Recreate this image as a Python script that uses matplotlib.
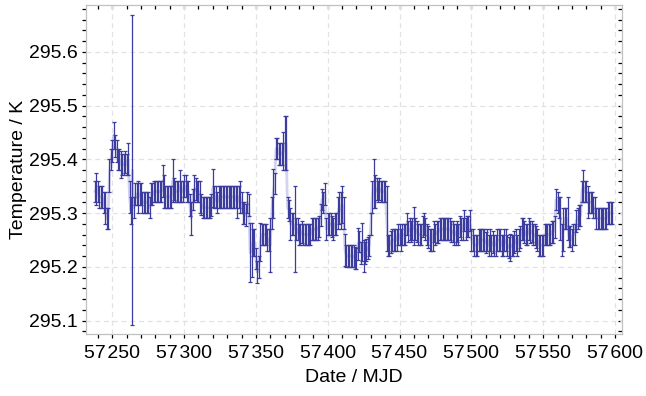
import numpy as np
import matplotlib
matplotlib.use("Agg")
import matplotlib.pyplot as plt
from matplotlib.ticker import MultipleLocator, FuncFormatter

plt.rcParams['font.family'] = ['Liberation Sans', 'DejaVu Sans']

start_day = 57238
temps = [
    # 57238
    295.34, 295.345, 295.34, 295.33, 295.33, 295.33, 295.32, 295.31, 295.29, 295.29,
    # 57248
    295.37, 295.40, 295.415, 295.445, 295.425, 295.415, 295.40, 295.40, 295.39, 295.39,
    # 57258
    295.39, 295.395, 295.39, 295.40, 295.33, 295.305, 295.38, 295.31, 295.335, 295.335,
    # 57268
    295.33, 295.335, 295.335, 295.32, 295.32, 295.32, 295.32, 295.32, 295.31, 295.335,
    # 57278
    295.335, 295.34, 295.34, 295.34, 295.34, 295.34, 295.34, 295.36, 295.34, 295.33,
    # 57288
    295.33, 295.33, 295.33, 295.33, 295.36, 295.345, 295.34, 295.34, 295.34, 295.35,
    # 57298
    295.34, 295.34, 295.35, 295.35, 295.34, 295.34, 295.315, 295.29, 295.325, 295.345,
    # 57308
    295.345, 295.34, 295.34, 295.33, 295.316, 295.31, 295.31, 295.31, 295.31, 295.31,
    # 57318
    295.31, 295.315, 295.346, 295.33, 295.33, 295.32, 295.33, 295.33, 295.33, 295.33,
    # 57328
    295.33, 295.33, 295.33, 295.33, 295.33, 295.33, 295.33, 295.33, 295.33, 295.32,
    # 57338
    295.33, 295.33, 295.32, 295.30, 295.30, 295.296, 295.32, 295.315, 295.226, 295.231,
    # 57348
    295.246, 295.246, 295.215, 295.19, 295.20, 295.246, 295.26, 295.26, 295.26, 295.26,
    # 57358
    295.25, 295.25, 295.24, 295.30, 295.336, 295.355, 295.42, 295.42, 295.41, 295.41,
    # 57368
    295.41, 295.415, 295.43, 295.43, 295.31, 295.305, 295.28, 295.28, 295.28, 295.27,
    # 57378
    295.27, 295.27, 295.26, 295.26, 295.265, 295.26, 295.26, 295.26, 295.26, 295.26,
    # 57388
    295.26, 295.27, 295.27, 295.27, 295.27, 295.27, 295.275, 295.296, 295.325, 295.32,
    # 57398
    295.335, 295.27, 295.28, 295.28, 295.28, 295.275, 295.27, 295.28, 295.28, 295.30,
    # 57408
    295.31, 295.305, 295.316, 295.30, 295.231, 295.22, 295.22, 295.22, 295.22, 295.22,
    # 57418
    295.22, 295.216, 295.215, 295.242, 295.247, 295.226, 295.246, 295.22, 295.226, 295.231,
    # 57428
    295.235, 295.24, 295.28, 295.33, 295.355, 295.34, 295.345, 295.34, 295.345, 295.34,
    # 57438
    295.34, 295.34, 295.34, 295.29, 295.24, 295.24, 295.246, 295.25, 295.25, 295.25,
    # 57448
    295.25, 295.26, 295.26, 295.25, 295.26, 295.26, 295.26, 295.28, 295.266, 295.27,
    # 57458
    295.266, 295.27, 295.276, 295.27, 295.266, 295.26, 295.26, 295.26, 295.275, 295.28,
    # 57468
    295.27, 295.26, 295.255, 295.25, 295.25, 295.25, 295.266, 295.26, 295.265, 295.265,
    # 57478
    295.27, 295.27, 295.27, 295.27, 295.27, 295.27, 295.27, 295.27, 295.266, 295.266,
    # 57488
    295.26, 295.26, 295.266, 295.26, 295.275, 295.27, 295.27, 295.286, 295.27, 295.275,
    # 57498
    295.275, 295.286, 295.25, 295.25, 295.24, 295.24, 295.24, 295.25, 295.25, 295.25,
    # 57508
    295.25, 295.25, 295.245, 295.25, 295.24, 295.25, 295.24, 295.246, 295.24, 295.24,
    # 57518
    295.25, 295.25, 295.25, 295.24, 295.24, 295.25, 295.25, 295.24, 295.236, 295.236,
    # 57528
    295.24, 295.24, 295.246, 295.25, 295.24, 295.25, 295.255, 295.27, 295.27, 295.265,
    # 57538
    295.26, 295.26, 295.27, 295.265, 295.266, 295.26, 295.26, 295.255, 295.25, 295.24,
    # 57548
    295.24, 295.24, 295.24, 295.26, 295.26, 295.26, 295.26, 295.26, 295.265, 295.265,
    # 57558
    295.274, 295.325, 295.32, 295.31, 295.29, 295.25, 295.27, 295.29, 295.29, 295.29,
    # 57568
    295.256, 295.256, 295.25, 295.26, 295.26, 295.285, 295.29, 295.295, 295.295, 295.34,
    # 57578
    295.35, 295.34, 295.34, 295.32, 295.32, 295.32, 295.32, 295.31, 295.31, 295.29,
    # 57588
    295.29, 295.29, 295.29, 295.29, 295.29, 295.29, 295.29, 295.30, 295.30, 295.30,
    # 57598
    295.30,
]
default_err = 0.02
err_exceptions = {
    57239: 0.03, 57245: 0.03, 57248: 0.03, 57251: 0.025, 57256: 0.025,
    57261: 0.03, 57262: 0.03, 57263: 0.025, 57264: 0.288, 57268: 0.03,
    57285: 0.03, 57286: 0.03, 57292: 0.04, 57297: 0.03, 57305: 0.03,
    57307: 0.025, 57311: 0.03, 57320: 0.035, 57337: 0.03, 57339: 0.03,
    57346: 0.055, 57347: 0.05, 57348: 0.025, 57349: 0.025, 57353: 0.035,
    57360: 0.05, 57361: 0.03, 57362: 0.045, 57369: 0.035, 57370: 0.05,
    57371: 0.05, 57374: 0.03, 57377: 0.08, 57407: 0.03, 57408: 0.03,
    57409: 0.035, 57410: 0.035, 57411: 0.03, 57412: 0.03, 57421: 0.03,
    57424: 0.035, 57425: 0.03, 57431: 0.03, 57432: 0.045, 57433: 0.03,
    57441: 0.06, 57460: 0.035, 57527: 0.025, 57562: 0.04, 57563: 0.03,
    57564: 0.04, 57567: 0.04, 57578: 0.03, 57581: 0.03,
}

dates = np.arange(start_day, start_day + len(temps))
errs = np.array([err_exceptions.get(int(d), default_err) for d in dates])
temps = np.array(temps)

fig = plt.figure(figsize=(6.46, 3.96), dpi=100)
ax = fig.add_axes([86/646, 1-334/396, (622-86)/646, (334-5)/396])

bar_color = '#3c3c9e'
ax.plot(dates, temps, color='#a8a8e4', lw=2.0, alpha=0.5, zorder=2)
ax.errorbar(dates, temps, yerr=errs, fmt='none', ecolor=bar_color,
            elinewidth=0.9, capsize=1.4, capthick=0.9, zorder=3)

ax.set_xlim(57231.7, 57604.9)
ax.set_ylim(295.075, 295.687)

ax.xaxis.set_major_locator(MultipleLocator(50))
ax.xaxis.set_minor_locator(MultipleLocator(10))
ax.yaxis.set_major_locator(MultipleLocator(0.1))
ax.yaxis.set_minor_locator(MultipleLocator(0.02))

def xfmt(x, pos):
    v = int(round(x))
    return f"{v // 1000}\u200a{v % 1000:03d}"
ax.xaxis.set_major_formatter(FuncFormatter(xfmt))
ax.yaxis.set_major_formatter(FuncFormatter(lambda y, p: f"{y:.1f}"))

ax.grid(True, which='major', color='#e2e2e2', linestyle=(0, (4, 3)), lw=0.9, zorder=0)
for s in ax.spines.values():
    s.set_color('#c0c0c0')
    s.set_linewidth(0.9)

ax.tick_params(which='both', direction='out', length=3, width=0.9, color='black',
               labelsize=14)
ax.tick_params(axis='x', pad=5)
ax.tick_params(axis='y', pad=3)

secx = ax.secondary_xaxis('top')
secx.xaxis.set_major_locator(MultipleLocator(50))
secx.xaxis.set_minor_locator(MultipleLocator(10))
secx.tick_params(which='both', direction='in', length=3, width=0.9, color='black',
                 labeltop=False)
secx.spines['top'].set_visible(False)
secy = ax.secondary_yaxis('right')
secy.yaxis.set_major_locator(MultipleLocator(0.1))
secy.yaxis.set_minor_locator(MultipleLocator(0.02))
secy.tick_params(which='both', direction='in', length=3, width=0.9, color='black',
                 labelright=False)
secy.spines['right'].set_visible(False)

ax.set_xlabel('Date / MJD', fontsize=14, labelpad=5)
ax.set_ylabel('Temperature / K', fontsize=14, labelpad=1)

fig.savefig('out.png', dpi=100)
